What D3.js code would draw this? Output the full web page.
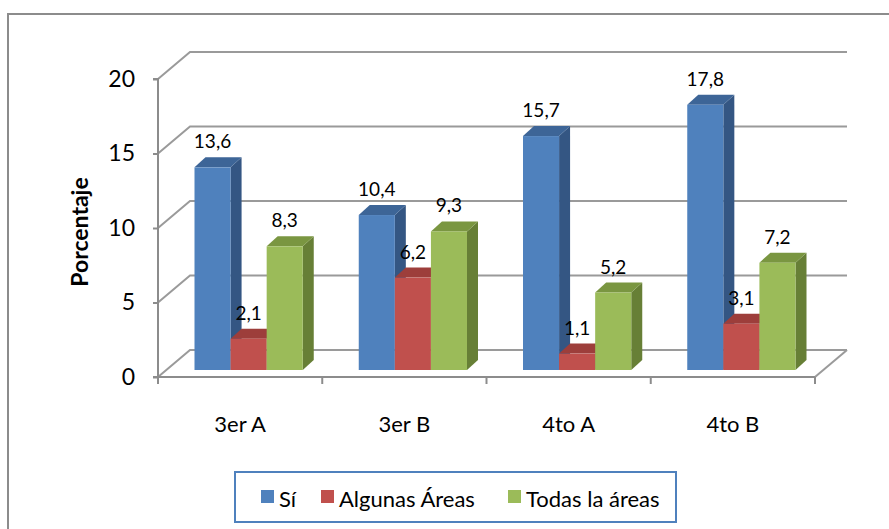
<!DOCTYPE html>
<html>
<head>
<meta charset="utf-8">
<script src="https://cdn.jsdelivr.net/npm/d3@7"></script>
<style>
  body { margin: 0; background: #fff; }
  text { font-family: Lato, "Open Sans", sans-serif; fill: #000; }
</style>
</head>
<body>
<div id="vis"></div>
<script>
const w = 889;
const h = 529;

// data
const categories = ["3er A", "3er B", "4to A", "4to B"];
const seriesNames = ["Sí", "Algunas Áreas", "Todas la áreas"];
const si = [13.6, 10.4, 15.7, 17.8];
const algunas = [2.1, 6.2, 1.1, 3.1];
const todas = [8.3, 9.3, 5.2, 7.2];
const yTicks = [0, 5, 10, 15, 20];

const seriesValues = [si, algunas, todas];
const colors = [
    {front: "#4f81bd", top: "#3d6597", side: "#345683"},
    {front: "#c0504d", top: "#9d3e3b", side: "#8a3533"},
    {front: "#9bbb59", top: "#7a9641", side: "#677f36"}
];

// 3d offsets
const wall = {dx: 32, dy: -27};   // back wall depth
const front = {dx: 8.5, dy: -7};  // front plane of the columns
const depth = {dx: 11, dy: -10};  // column depth

const svg = d3.select('#vis')
    .append('svg')
    .attr('width', w)
    .attr('height', h);

// outer frame
svg.append('rect')
    .attr('x', 8)
    .attr('y', 14)
    .attr('width', 900)
    .attr('height', 540)
    .attr('fill', 'none')
    .attr('stroke', '#8c8c8c')
    .attr('stroke-width', 2);

let xScale = d3.scaleBand()
    .domain(categories)
    .range([158, 815]);

let xInner = d3.scaleBand()
    .domain(seriesNames)
    .range([28, xScale.bandwidth() - 28]);

let yScale = d3.scaleLinear()
    .domain([0, 20])
    .range([377, 79]);

const x0 = xScale.range()[0];
const x1 = xScale.range()[1];

// back wall grid lines + side wall diagonals
const grid = svg.append('g')
    .attr('stroke', '#9a9a9a')
    .attr('stroke-width', 2)
    .attr('fill', 'none');

yTicks.forEach(t => {
    let y = yScale(t);
    grid.append('path')
        .attr('d', `M${x0},${y}L${x0 + wall.dx},${y + wall.dy}L${x1 + wall.dx},${y + wall.dy}`);
});

// floor right edge
grid.append('path')
    .attr('d', `M${x1},${yScale(0)}L${x1 + wall.dx},${yScale(0) + wall.dy}`);

// axes
let yAxis = d3.axisLeft(yScale)
    .tickValues(yTicks)
    .tickSize(5)
    .tickPadding(18);

let yG = svg.append('g')
    .attr('transform', `translate(${x0}, 0)`)
    .call(yAxis);

yG.select('.domain').attr('stroke', '#8c8c8c').attr('stroke-width', 2).attr('d', `M-5,${yScale(20)}H0V${yScale(0)}H-5`);
yG.selectAll('.tick line').attr('stroke', '#8c8c8c').attr('stroke-width', 2);
yG.selectAll('.tick text').attr('font-size', '23px').attr('font-family', 'Lato');

let xAxis = d3.axisBottom(xScale)
    .tickSize(0)
    .tickPadding(39);

let xG = svg.append('g')
    .attr('transform', `translate(0, ${yScale(0)})`)
    .call(xAxis);

xG.select('.domain').attr('stroke', '#8c8c8c').attr('stroke-width', 2).attr('d', `M${x0},0H${x1}`);
xG.selectAll('.tick text').attr('font-size', '22px').attr('font-family', 'Lato');

// category boundary ticks
xG.selectAll('line.sep')
    .data(d3.range(categories.length + 1))
    .join('line')
    .attr('class', 'sep')
    .attr('x1', i => x0 + i * xScale.step())
    .attr('x2', i => x0 + i * xScale.step())
    .attr('y1', 0)
    .attr('y2', 7)
    .attr('stroke', '#8c8c8c')
    .attr('stroke-width', 2);

// columns
const bars = [];
categories.forEach((c, ci) => {
    seriesNames.forEach((s, si_) => {
        bars.push({cat: c, series: s, idx: si_, value: seriesValues[si_][ci]});
    });
});

const barG = svg.append('g');

bars.forEach(d => {
    let left = xScale(d.cat) + xInner(d.series) + front.dx;
    let right = left + xInner.bandwidth();
    let top = yScale(d.value) + front.dy;
    let bottom = yScale(0) + front.dy;
    let col = colors[d.idx];
    let g = barG.append('g');
    // side face
    g.append('path')
        .attr('d', `M${right},${bottom}L${right + depth.dx},${bottom + depth.dy}L${right + depth.dx},${top + depth.dy}L${right},${top}Z`)
        .attr('fill', col.side);
    // top face
    g.append('path')
        .attr('d', `M${left},${top}L${left + depth.dx},${top + depth.dy}L${right + depth.dx},${top + depth.dy}L${right},${top}Z`)
        .attr('fill', col.top);
    // front face
    g.append('rect')
        .attr('x', left)
        .attr('y', top)
        .attr('width', xInner.bandwidth())
        .attr('height', bottom - top)
        .attr('fill', col.front);
    // value label
    g.append('text')
        .attr('x', (left + right) / 2)
        .attr('y', top - 19)
        .attr('text-anchor', 'middle')
        .attr('font-size', '19px')
        .text(d3.format(".1f")(d.value).replace('.', ','));
});

// y axis title
svg.append('text')
    .attr('transform', 'translate(88, 232) rotate(-90)')
    .attr('text-anchor', 'middle')
    .attr('font-size', '23px')
    .attr('font-weight', 'bold')
    .text('Porcentaje');

// legend
const legend = svg.append('g');
legend.append('rect')
    .attr('x', 235)
    .attr('y', 472)
    .attr('width', 441)
    .attr('height', 50)
    .attr('fill', '#fff')
    .attr('stroke', '#4f81bd')
    .attr('stroke-width', 2);

const legendX = [261, 321, 508];
seriesNames.forEach((s, i) => {
    legend.append('rect')
        .attr('x', legendX[i])
        .attr('y', 490)
        .attr('width', 13)
        .attr('height', 13)
        .attr('fill', colors[i].front);
    legend.append('text')
        .attr('x', legendX[i] + 18)
        .attr('y', 507)
        .attr('font-size', '22px')
        .text(s);
});
</script>
</body>
</html>
